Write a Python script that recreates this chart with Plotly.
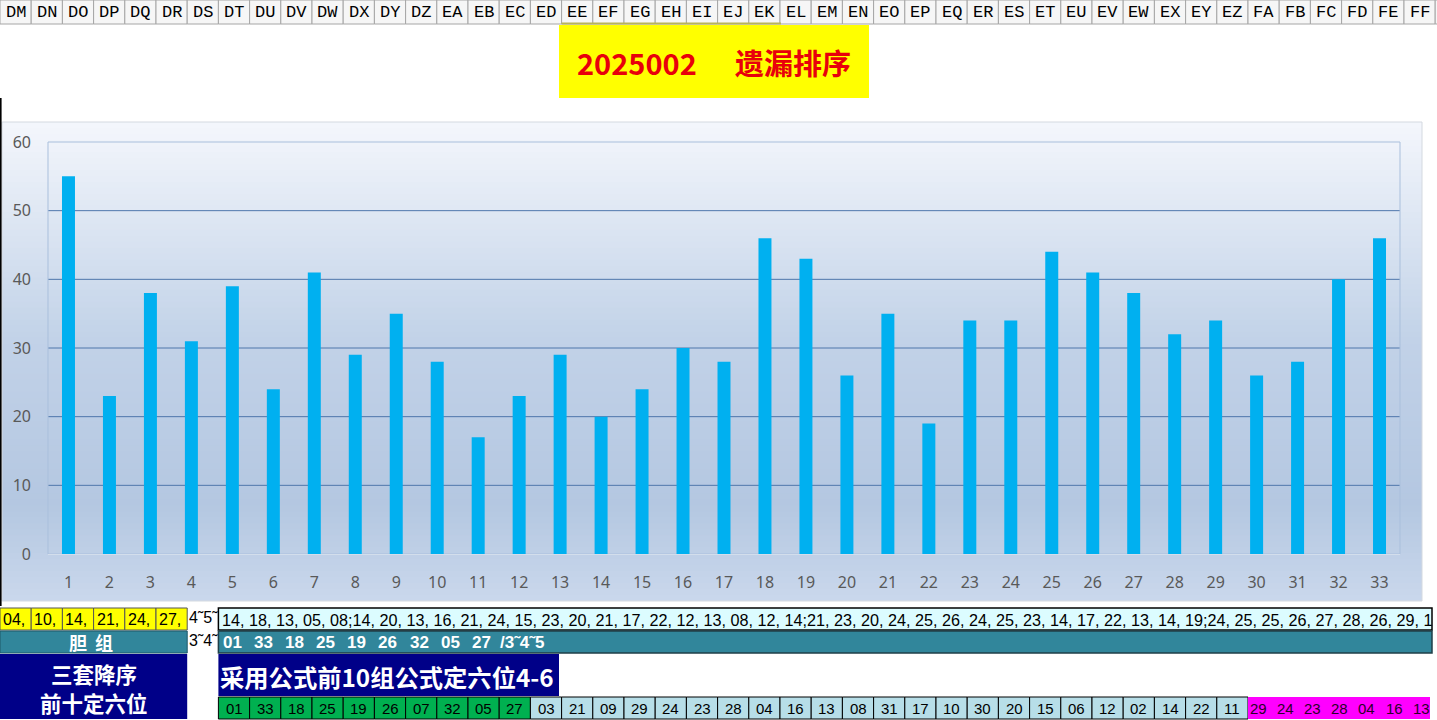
import plotly.graph_objects as go

# ---------------- data ----------------
categories = list(range(1, 34))
miss_values = [55, 23, 38, 31, 39, 24, 41, 29, 35, 28, 17, 23, 29, 20, 24, 30, 28,
               46, 43, 26, 35, 19, 34, 34, 44, 41, 38, 32, 34, 26, 28, 40, 46]
y_ticks = [0, 10, 20, 30, 40, 50, 60]
grid_levels = [10, 20, 30, 40, 50]

col_headers = ["DM", "DN", "DO", "DP", "DQ", "DR", "DS", "DT", "DU", "DV", "DW", "DX", "DY", "DZ",
               "EA", "EB", "EC", "ED", "EE", "EF", "EG", "EH", "EI", "EJ", "EK", "EL", "EM", "EN",
               "EO", "EP", "EQ", "ER", "ES", "ET", "EU", "EV", "EW", "EX", "EY", "EZ",
               "FA", "FB", "FC", "FD", "FE", "FF", "FG"]
title_issue = "2025002"
title_text = "遗漏排序"
row1_yellow = ["04,", "10,", "14,", "21,", "24,", "27,"]
row1_overflow = "4˜5˜"
row1_series = ("14, 18, 13, 05, 08;14, 20, 13, 16, 21, 24, 15, 23, 20, 21, 17, 22, 12, 13, 08, 12, 14;"
               "21, 23, 20, 24, 25, 26, 24, 25, 23, 14, 17, 22, 13, 14, 19;24, 25, 25, 26, 27, 28, 26, 29, 1")
row2_label = ["胆", "组"]
row2_overflow = "3˜4˜"
row2_numbers = ["01", "33", "18", "25", "19", "26", "32", "05", "27"]
row2_suffix = "/3˜4˜5"
row3_label_lines = ["三套降序", "前十定六位"]
row3_text = "采用公式前10组公式定六位4-6"
row4_green = ["01", "33", "18", "25", "19", "26", "07", "32", "05", "27"]
row4_blue = ["03", "21", "09", "29", "24", "23", "28", "04", "16", "13", "08", "31", "17",
             "10", "30", "20", "15", "06", "12", "02", "14", "22", "11"]
row4_magenta = ["29", "24", "23", "28", "04", "16", "13"]

# ---------------- geometry helpers ----------------
W, H = 1437, 720
PL, PR, PT, PB = 48, 1400, 142, 554
CW = 31.2  # spreadsheet column width


def px(x):
    return (x - PL) / (PR - PL)


def py(y):
    return (PB - y) / (PB - PT)


shapes = []
annotations = []


def rect(x0, y0, x1, y1, fill, line=None, lw=1, layer="above"):
    shapes.append(dict(type="rect", xref="paper", yref="paper",
                       x0=px(x0), x1=px(x1), y0=py(y1), y1=py(y0),
                       fillcolor=fill,
                       line=dict(color=line if line else "rgba(0,0,0,0)", width=lw if line else 0),
                       layer=layer))


def hline(x0, x1, y, color, lw=1, layer="above"):
    shapes.append(dict(type="line", xref="paper", yref="paper",
                       x0=px(x0), x1=px(x1), y0=py(y), y1=py(y),
                       line=dict(color=color, width=lw), layer=layer))


def vline(x, y0, y1, color, lw=1, layer="above"):
    shapes.append(dict(type="line", xref="paper", yref="paper",
                       x0=px(x), x1=px(x), y0=py(y0), y1=py(y1),
                       line=dict(color=color, width=lw), layer=layer))


def text(x, y, s, size, color, family, xanchor="center", bold=False):
    annotations.append(dict(xref="paper", yref="paper", x=px(x), y=py(y),
                            text=("<b>%s</b>" % s) if bold else s, showarrow=False,
                            xanchor=xanchor, yanchor="middle", borderpad=0,
                            font=dict(size=size, color=color, family=family)))


CJK = "Noto Sans CJK SC"
SANS = "Liberation Sans"

# ---------------- header row ----------------
for i, h in enumerate(col_headers):
    x0 = i * CW
    rect(x0, 0, x0 + CW, 24, "#f6f6f6", "#a6a6a6", 1)
    text(x0 + CW / 2, 12.5, h, 17, "#000000", "Liberation Mono")
hline(18 * CW, 25 * CW + 1, 23.5, "#b8b45a", 2)

# ---------------- title ----------------
rect(559, 25, 869, 98, "#ffff00")
text(637, 62, title_issue, 29, "#e8000b", CJK, bold=True)
text(793, 62, title_text, 29, "#e8000b", CJK, bold=True)

# ---------------- chart area gradient ----------------
stops = [(0.0, (244, 247, 252)), (0.45, (194, 210, 232)), (0.8, (180, 199, 225)), (1.0, (202, 216, 236))]


def grad(t):
    for (t0, c0), (t1, c1) in zip(stops[:-1], stops[1:]):
        if t0 <= t <= t1:
            f = (t - t0) / (t1 - t0)
            return "rgb(%d,%d,%d)" % tuple(round(a + (b - a) * f) for a, b in zip(c0, c1))
    return "rgb(%d,%d,%d)" % stops[-1][1]


CA_X0, CA_X1, CA_Y0, CA_Y1 = 2, 1422, 122, 601
n = 80
step = (CA_Y1 - CA_Y0) / n
for k in range(n):
    y0 = CA_Y0 + k * step
    rect(CA_X0, y0, CA_X1, min(y0 + step + 1, CA_Y1), grad((k + 0.5) / n), layer="below")
rect(CA_X0, CA_Y0, CA_X1, CA_Y1, "rgba(0,0,0,0)", "#d4d9e0", 1, layer="below")
vline(0.8, 98, 606, "#000000", 1.6)

# grid lines at the axis levels
for g in grid_levels:
    shapes.append(dict(type="line", xref="paper", yref="y", x0=0, x1=1, y0=g, y1=g,
                       line=dict(color="#4f76ab", width=1), layer="below"))
# plot-area frame
shapes.append(dict(type="rect", xref="paper", yref="paper", x0=0, x1=1, y0=0, y1=1,
                   line=dict(color="#a9bfdc", width=1), fillcolor="rgba(0,0,0,0)", layer="below"))

# ---------------- bottom rows ----------------
# row 1
R1a, R1b = 608, 630
for i, s in enumerate(row1_yellow):
    x0 = i * CW
    rect(x0, R1a, x0 + CW, R1b, "#ffff00", "#555555", 1)
    text(x0 + 2, (R1a + R1b) / 2 + 0.5, s, 16, "#000000", SANS, xanchor="left")
text(6 * CW + 1, (R1a + R1b) / 2 - 2, row1_overflow, 16, "#000000", SANS, xanchor="left")
rect(7 * CW, R1a, 1432, R1b, "#dcfcff", "#000000", 1.5)
text(7 * CW + 3, (R1a + R1b) / 2 + 0.5, row1_series, 16.2, "#000000", SANS, xanchor="left")

# row 2
R2a, R2b = 631, 653
TEAL = "#31869b"
rect(0, R2a, 6 * CW, R2b, TEAL, "#1f5968", 1)
text(78, (R2a + R2b) / 2, row2_label[0], 18, "#ffffff", CJK, bold=True)
text(104, (R2a + R2b) / 2, row2_label[1], 18, "#ffffff", CJK, bold=True)
text(6 * CW + 1, (R2a + R2b) / 2 - 2, row2_overflow, 16, "#000000", SANS, xanchor="left")
rect(7 * CW, R2a, 1432, R2b, TEAL, "#1f3f48", 1.5)
for i, s in enumerate(row2_numbers):
    text(7 * CW + 14 + i * 31.1, (R2a + R2b) / 2, s, 17, "#ffffff", SANS, bold=True)
text(7 * CW + 281, (R2a + R2b) / 2, row2_suffix, 17, "#ffffff", SANS, xanchor="left", bold=True)

# row 3
NAVY = "#000088"
rect(0, 654, 6 * CW, 719, NAVY)
text(3 * CW, 673, row3_label_lines[0], 21.5, "#ffffff", CJK, bold=True)
text(3 * CW, 702, row3_label_lines[1], 21.5, "#ffffff", CJK, bold=True)
rect(7 * CW, 654, 559, 696, NAVY)
text(7 * CW + 1, 676, row3_text, 24.3, "#ffffff", CJK, xanchor="left", bold=True)

# row 4
R4a, R4b = 697, 719
x = 7 * CW
for s in row4_green:
    rect(x, R4a, x + CW, R4b, "#00b050", "#000000", 1)
    text(x + CW / 2, (R4a + R4b) / 2 + 0.5, s, 15, "#000000", SANS)
    x += CW
for s in row4_blue:
    rect(x, R4a, x + CW, R4b, "#b7dee8", "#000000", 1)
    text(x + CW / 2, (R4a + R4b) / 2 + 0.5, s, 15, "#000000", SANS)
    x += CW
mag_x0 = x
rect(mag_x0, R4a, 1430, R4b, "#ff00ff")
for i, s in enumerate(row4_magenta):
    text(mag_x0 + 10 + i * 27.2, (R4a + R4b) / 2 + 0.5, s, 15, "#2a002a", SANS)

# ---------------- figure ----------------
fig = go.Figure()
fig.add_trace(go.Bar(x=categories, y=miss_values, marker=dict(color="#00b0f0", line=dict(width=0)),
                     hoverinfo="x+y"))

fig.update_layout(
    width=W, height=H,
    margin=dict(l=PL, r=W - PR, t=PT, b=H - PB, pad=0),
    paper_bgcolor="#ffffff", plot_bgcolor="rgba(0,0,0,0)",
    bargap=0.683, showlegend=False,
    shapes=shapes, annotations=annotations,
    xaxis=dict(range=[0.5, 33.5], tickmode="array", tickvals=categories,
               ticktext=[str(c) for c in categories], showgrid=False, zeroline=False,
               showline=True, linecolor="#d3deec", linewidth=1, ticks="",
               ticklabelstandoff=14,
               tickfont=dict(family="Noto Sans", size=16, color="#595959")),
    yaxis=dict(range=[0, 60], tickmode="array", tickvals=y_ticks, showgrid=False,
               zeroline=False, showline=False, ticks="", ticklabelstandoff=16,
               tickfont=dict(family="Noto Sans", size=16, color="#595959")),
)

fig.write_html("out.html", config={"displayModeBar": False},
               post_script="document.body.style.margin='0';document.body.style.overflow='hidden';")
